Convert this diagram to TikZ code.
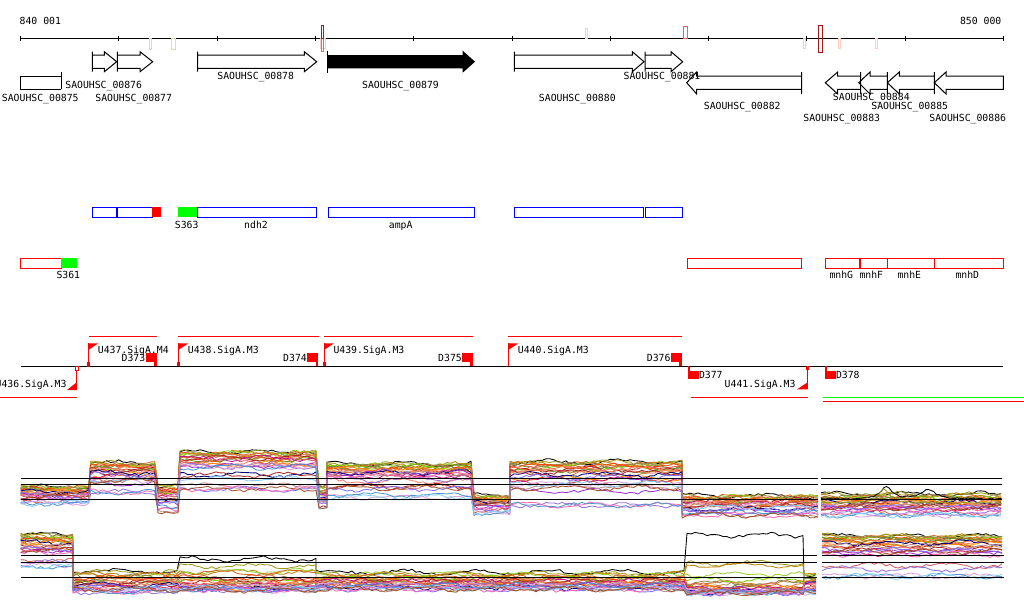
\documentclass[tikz,border=0pt]{standalone}
\usepackage{fontspec}
\setmonofont{DejaVu Sans Mono}
\usetikzlibrary{positioning}
\definecolor{pale}{RGB}{250,205,195}
\definecolor{salm}{RGB}{240,100,80}
\definecolor{dred}{RGB}{165,25,25}
\definecolor{sgreen}{RGB}{0,255,0}
\definecolor{colive}{HTML}{9C9A1E}
\definecolor{cgold}{HTML}{B8860B}
\definecolor{cyell}{HTML}{9ACD32}
\definecolor{cchoc}{HTML}{D2691E}
\definecolor{ckhak}{HTML}{8B864E}
\definecolor{clime}{HTML}{7CCD00}
\definecolor{ctoma}{HTML}{EE5C42}
\definecolor{coran}{HTML}{FF4500}
\definecolor{codra}{HTML}{6B8E23}
\definecolor{cperu}{HTML}{CD853F}
\definecolor{cfire}{HTML}{B22222}
\definecolor{ccora}{HTML}{FF7F50}
\definecolor{cdora}{HTML}{FF8C00}
\definecolor{cviol}{HTML}{C71585}
\definecolor{csalm}{HTML}{FA8072}
\definecolor{cnavy}{HTML}{000080}
\definecolor{corch}{HTML}{9A32CD}
\definecolor{cindi}{HTML}{CD5C5C}
\definecolor{cbrow}{HTML}{A52A2A}
\definecolor{crosy}{HTML}{BC8F8F}
\definecolor{cmpur}{HTML}{9370DB}
\definecolor{cplum}{HTML}{DDA0DD}
\definecolor{cslat}{HTML}{8470FF}
\definecolor{chotp}{HTML}{FF69B4}
\definecolor{csteel}{HTML}{4F94CD}
\definecolor{csky}{HTML}{87CEFA}
\definecolor{csien}{HTML}{A0522D}
\def\linecolors{black,colive,cgold,cyell,cchoc,ckhak,clime,ctoma,coran,codra,cperu,cfire,ccora,cdora,cviol,csalm,cnavy,corch,cindi,cbrow,crosy,cmpur,cplum,cslat,chotp,csteel,csky,csien}
% segments: x from / x to / top / bottom / skew
\def\segA{20.7/90.7/487/503/1.5, 90.7/158/463/492/2, 158/180/486/511/1.5, 180/319/452/489/2.5, 319/327/487/506/1, 327/474/464/497/2.5, 474/510/496/513/1.5, 510/682/462/505/2.5, 682/818.3/496/515/1.2}
\def\segB{821/1002.3/494/515/1}
\def\segC{20.7/73/535/566/2, 73/180/571/592/0.5, 180/316/559/590/0.15, 316/687/572/589/0.4, 687/804/535/593/0.05, 804/816.7/575/593/0.8}
\def\segD{822/1004/536/576/3}
\newcommand{\drawbundle}[1]{%
  \foreach \col [count=\idx] in \linecolors {%
    \pgfmathsetmacro{\lev}{(\idx-1)/27}%
    \global\let\pts\empty
    \foreach \xa/\xb/\ya/\yb/\sk [count=\seg] in #1 {%
      \pgfmathsetmacro{\levk}{min(1,\lev*(1+0.35*sin(\idx*97+\seg*61)))}%
      \pgfmathsetmacro{\xn}{\xa+4}%
      \foreach \x in {\xa,\xn,...,\xb} {%
        \pgfmathsetmacro{\y}{\ya+(\yb-\ya)*\levk/(\levk+\sk*(1-\levk))+2*sin(\x*5+\idx*50)+1.4*rand}%
        \ifx\pts\empty\xdef\pts{(\x,\y)}\else\xdef\pts{\pts--(\x,\y)}\fi
      }%
    }%
    \draw[data, color=\col] \pts;
  }%
}
\begin{document}
\begin{tikzpicture}[x=1pt, y=-1pt,
  every node/.style={font=\ttfamily\fontsize{9.8}{11}\selectfont, inner sep=0pt},
  lbl/.style={anchor=base},
  gene/.style={draw=black, line width=1pt},
  cds/.style={draw=blue, line width=1pt},
  ann/.style={draw=red, line width=1pt},
  tu/.style={draw=red, line width=1pt},
  data/.style={line width=0.85pt, line join=round},
  refline/.style={black, line width=1pt}]
\useasboundingbox[fill=white] (0,0) rectangle (1024,611);
\pgfmathsetseed{42}
% draw ruler
\draw[line width=1pt] (20.7,38.3) -- (1003.3,38.3);
\foreach \k in {0,...,10} \draw[line width=1pt] (20.7+98.26*\k,36) -- (20.7+98.26*\k,40.8);
\node[lbl, anchor=base west] (posL) at (19.5,24.4) {840 001};
\node[lbl, anchor=base east] (posR) at (1001.5,24.4) {850 000};
% marks on ruler
\draw[pale] (149,38.3) rectangle (151,49);
\draw[pale] (171.5,38.3) rectangle (175.5,49);
\draw[pale] (320,38.3) rectangle (325,48);
\draw[salm] (321,38.3) rectangle (323.5,51.5);
\draw[dred] (321,25) rectangle (323.5,38.3);
\draw[pale] (585,28) rectangle (587.5,38.3);
\draw[salm] (683.5,26) rectangle (687.5,38.3);
\draw[pale] (803,38.3) rectangle (805.5,48);
\draw[dred] (818.5,25) rectangle (822.5,52);
\draw[pale] (838.5,38.3) rectangle (840.5,48);
\draw[pale] (875.5,38.3) rectangle (877.5,48);
% draw genes
\foreach \xs/\xh/\xt in {92.3/104.3/116.7, 117.3/140/152.7, 197.7/304.3/316.7, 514.3/632.3/644, 645/671/682.7}
  \draw[gene] (\xs,51.7) -- (\xs,71.7) (\xs,55) -- (\xh,55) -- (\xh,51.7) -- (\xt,61.7) -- (\xh,71.7) -- (\xh,68.3) -- (\xs,68.3);
\draw[gene] (327.7,50.7) -- (327.7,72.7);
\fill[black] (327.7,55) -- (462.7,55) -- (462.7,50.7) -- (475,61.7) -- (462.7,72.7) -- (462.7,68.3) -- (327.7,68.3) -- cycle;
\foreach \xs/\xh/\xt in {801.7/696.7/686.7, 860.7/837.7/825.3, 887.3/870/858.7, 934.3/899.3/887.3}
  \draw[gene] (\xs,72) -- (\xs,94) (\xs,76) -- (\xh,76) -- (\xh,72) -- (\xt,82.7) -- (\xh,94) -- (\xh,89.3) -- (\xs,89.3);
\draw[gene] (1003.3,76) -- (946,76) -- (946,72) -- (934.3,82.7) -- (946,94) -- (946,89.3) -- (1003.3,89.3) -- cycle;
\draw[gene] (61,72) -- (61,89.3) (61,76) -- (20.7,76) -- (20.7,89.3) -- (61,89.3);
\foreach \n/\x/\y in {00875/40.3/101.4, 00876/103.7/88.7, 00877/133.7/101.4, 00878/255.7/79.7, 00879/400.5/88.7, 00880/577.3/101, 00881/662/79.7, 00882/742.2/109.7, 00883/841.7/121.4, 00884/871.3/100.4, 00885/909.7/109.7, 00886/967.7/121.4}
  \node[lbl] (g\n) at (\x,\y) {SAOUHSC\_\n};
% annotation rows
\draw[cds] (92.3,207.3) rectangle (116.7,217.3);
\draw[cds] (117.3,207.3) rectangle (152,217.3);
\fill[red] (152,207.3) rectangle (161,217.3);
\fill[sgreen] (178.3,207.3) rectangle (197.3,217.3);
\draw[cds] (197.3,207.3) rectangle (316.3,217.3);
\draw[cds] (328.3,207.3) rectangle (474.7,217.3);
\draw[cds] (514.3,207.3) rectangle (643.7,217.3);
\draw[cds] (645.3,207.3) rectangle (682.7,217.3);
\draw[ann] (20.7,258.3) rectangle (61,268.3);
\fill[sgreen] (61,258.3) rectangle (77,268.3);
\draw[ann] (687.3,258.3) rectangle (801.7,268.3);
\draw[ann] (825.7,258.3) rectangle (859,268.3);
\draw[ann] (860.3,258.3) rectangle (887.3,268.3);
\draw[ann] (887.3,258.3) rectangle (934.3,268.3);
\draw[ann] (934.3,258.3) rectangle (1003.3,268.3);
\node[lbl] (s363) at (186.7,228) {S363};
\node[lbl] (ndh) at (256,228) {ndh2};
\node[lbl] (amp) at (400.7,228) {ampA};
\node[lbl] (s361) at (68.3,278.7) {S361};
\foreach \n/\x in {G/841.3, F/871.3, E/909.3, D/967.3}
  \node[lbl] (mnh\n) at (\x,278.7) {mnh\n};
% operon row
\draw[line width=1pt] (20.7,366.3) -- (1003.3,366.3);
\foreach \xs/\xe in {89.3/156.7, 178.3/319, 324/472.7, 508.3/681.7}
  \draw[tu] (\xs,336.3) -- (\xe,336.3);
\foreach \xp in {88.3, 178.3, 324, 508.3} {
  \draw[tu] (\xp,366.3) -- (\xp,343.3);
  \fill[red] (\xp,343.3) -- (\xp+10,343.3) -- (\xp,350) -- cycle;
}
\draw[red] (87,362.3) rectangle (89.6,366.3);
\fill[red] (177,362.3) rectangle (180,366.3);
\fill[red] (322.7,362.3) rectangle (325.5,366.3);
\node[lbl, anchor=base west] (u437) at (97.7,353.7) {U437.SigA.M4};
\node[lbl, anchor=base west] (u438) at (187.7,353.7) {U438.SigA.M3};
\node[lbl, anchor=base west] (u439) at (333.3,353.7) {U439.SigA.M3};
\node[lbl, anchor=base west] (u440) at (517.7,353.7) {U440.SigA.M3};
\foreach \xa/\xb/\n in {145.7/156.7/373, 307.3/318.3/374, 462.3/472.7/375, 671/681.7/376} {
  \fill[red] (\xa,353.3) rectangle (\xb,362.3);
  \fill[red] (\xb-2.3,362.3) rectangle (\xb,366.3);
  \node[lbl, anchor=base east] (d\n) at (\xa-0.3,361) {D\n};
}
\draw[tu] (0,397) -- (76.7,397);
\draw[tu] (76.7,369.7) -- (76.7,390);
\draw[red] (75.3,366.3) rectangle (78.3,369.7);
\fill[red] (76.7,390) -- (67,390) -- (76.7,382.3) -- cycle;
\node[lbl, anchor=base east] (u436) at (66.7,387.7) {U436.SigA.M3};
\draw[tu] (690.7,397) -- (807.7,397);
\draw[tu] (807.7,366.3) -- (807.7,389.3);
\fill[red] (806.3,366.3) rectangle (809,370);
\fill[red] (807.7,389.3) -- (797,389.3) -- (807.7,382.3) -- cycle;
\node[lbl, anchor=base east] (u441) at (795.7,387.4) {U441.SigA.M3};
\foreach \xa/\n in {688.3/377, 825.3/378} {
  \fill[red] (\xa,366.3) rectangle (\xa+2,371);
  \fill[red] (\xa,371) rectangle (\xa+10.7,379.3);
  \node[lbl, anchor=base west] (d\n) at (\xa+10.5,378.7) {D\n};
}
\draw[sgreen, line width=1pt] (822.7,397) -- (1024,397);
\draw[red, line width=1pt] (822.7,401.3) -- (1024,401.3);
% expression profiles
\drawbundle{\segA}
\drawbundle{\segB}
\drawbundle{\segC}
\drawbundle{\segD}
\draw[data, black] plot[domain=821:1002, samples=70] (\x, {499-13/(1+((\x-886)/6)^2)-9/(1+((\x-928)/9)^2)+0.8*rand});
\draw[data, colive] plot[domain=821:1002, samples=70] (\x, {503-15/(1+((\x-884)/6)^2)+0.8*rand});
\foreach \yy in {478.3,484.3,499.3}
  \draw[refline] (20.7,\yy) -- (818.3,\yy) (820.7,\yy) -- (1002.3,\yy);
\foreach \yy in {555.7,562.3,577.3}
  \draw[refline] (20.7,\yy) -- (816.7,\yy) (821.7,\yy) -- (1004,\yy);
\end{tikzpicture}
\end{document}
